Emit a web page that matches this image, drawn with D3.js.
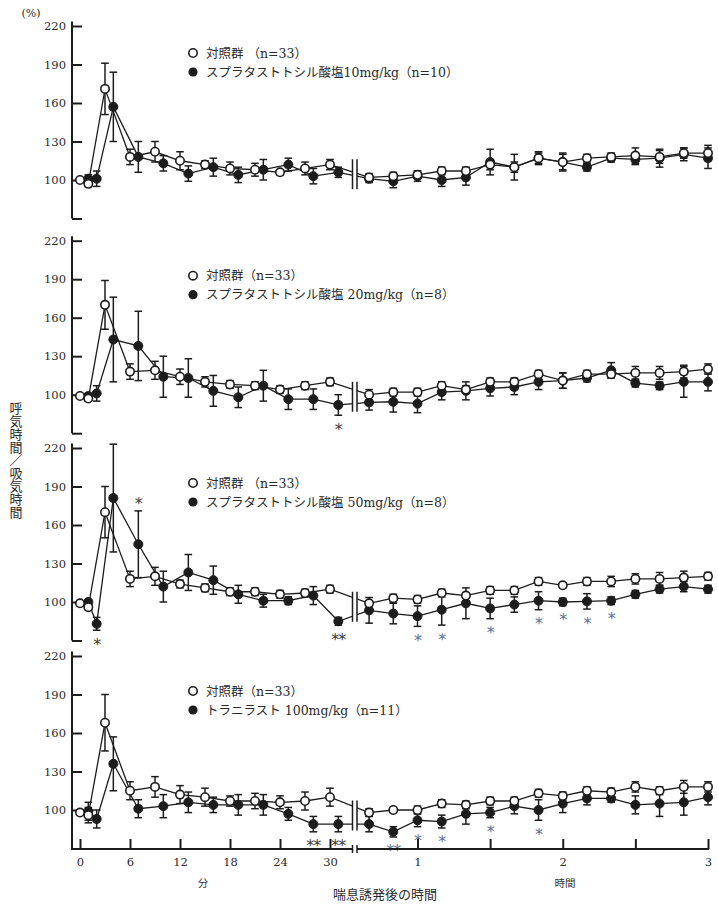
<!DOCTYPE html>
<html><head><meta charset="utf-8">
<script src="https://cdn.jsdelivr.net/npm/d3@7"></script>
<style>body{margin:0;background:#fff} svg{display:block}</style>
</head><body>
<svg id="chart" width="718" height="904"></svg>
<script>
// ---------- DATA ----------
const minTimesCtrl = [0,1,3,6,9,12,15,18,21,24,27,30];
const minTimesDrug = [1,2,4,7,10,13,16,19,22,25,28,31];
const hourTimes = [40,50,60,70,80,90,100,110,120,130,140,150,160,170,180];
const yTickValues = [70,100,130,160,190,220];
const minTickValues = [0,6,12,18,24,30];
const hourTickValues = [1,1.5,2,2.5,3];
const hourTickLabels = [1,2,3];

const ctrlLegend = ["対照群 （n=33）","対照群（n=33）","対照群 （n=33）","対照群（n=33）"];
const drugLegend = ["スプラタストトシル酸塩10mg/kg（n=10）","スプラタストトシル酸塩 20mg/kg（n=8）","スプラタストトシル酸塩 50mg/kg（n=8）","トラニラスト 100mg/kg（n=11）"];

// Panel 1
const ctrlMin1 = [100,97,171,118,122,115,112,109,108,106,109,112];
const ctrlMinSE1 = [1,2,20,6,8,7,3,5,5,2,5,4];
const ctrlHr1 = [102,103,104,107,107,112,110,117,114,117,118,119,118,121,121];
const ctrlHrSE1 = [3,3,3,3,3,4,4,4,6,3,3,6,5,4,6];
const drugMin1 = [101,101,157,118,113,105,110,104,108,112,103,106];
const drugMinSE1 = [3,6,27,12,6,6,7,6,8,5,6,4];
const drugHr1 = [101,99,103,100,102,114,110,117,114,110,117,116,117,120,117];
const drugHrSE1 = [3,5,4,5,6,10,10,5,7,3,3,4,7,5,8];

// Panel 2
const ctrlMin2 = [99,97,170,118,119,114,110,108,107,104,107,110];
const ctrlMinSE2 = [1,2,19,6,7,6,4,3,3,3,3,3];
const ctrlHr2 = [100,102,102,107,104,110,110,116,111,116,116,117,117,118,120];
const ctrlHrSE2 = [4,3,3,3,3,3,3,3,6,3,3,5,5,5,4];
const drugMin2 = [99,101,143,138,114,113,103,98,107,96.5,96.5,92];
const drugMinSE2 = [2,6,33,27,16,15,12,8,12,8,8,8];
const drugHr2 = [94,94.5,93,102,103,105,106,110,111,113,119,109,107,110,110];
const drugHrSE2 = [6,8,7,6,7,6,6,6,6,3,6,3,3,12,7];

// Panel 3
const ctrlMin3 = [99,96,170,118,120,114,111,108,108,106,107,110];
const ctrlMinSE3 = [1,2,20,6,7,3,3,3,3,3,3,3];
const ctrlHr3 = [99,103,102,107,105,109,109,116,113,116,116,118,118,119,120];
const ctrlHrSE3 = [2,3,3,3,2,3,3,3,2,3,4,4,5,5,3];
const drugMin3 = [100,83,181,145,112,123,117,106,101,101,105,85];
const drugMinSE3 = [2,5,42,26,12,14,11,7,5,3,7,3];
const drugHr3 = [93.5,91,89,94,99,95,98,101,100,100.5,101,106,110,112,110];
const drugHrSE3 = [10,8,8,12,12,8,6,7,3,6,3,3,3,4,3];

// Panel 4
const ctrlMin4 = [98,96,168,115,118,112,110,107,107,106,107,110];
const ctrlMinSE4 = [2,6,22,7,8,7,7,4,6,5,7,7];
const ctrlHr4 = [98,100,100,105,104,107,107,113,111,115,114,118,115,118,118];
const ctrlHrSE4 = [3,2,3,3,3,3,3,3,3,3,3,4,3,5,4];
const drugMin4 = [99,93,136,101,103,106,104,104,104,97,89,89];
const drugMinSE4 = [7,7,21,7,9,8,6,8,8,5,6,6];
const drugHr4 = [89,83,92,91,97,98,103,100,105,109,109,104,105,106,110];
const drugHrSE4 = [6,4,5,5,8,4,6,8,7,5,3,7,10,10,6];

// significance marks: [point index in drug series, label, side]
const stars1 = [];
const stars2 = [[11,"*","below"]];
const stars3 = [[1,"*","below"],[3,"*","above"],[11,"**","below"],[14,"*","below"],[15,"*","below"],[17,"*","below"],[19,"*","below"],[20,"*","below"],[21,"*","below"],[22,"*","below"]];
const stars4 = [[10,"**","below"],[11,"**","below"],[13,"**","below"],[14,"*","below"],[15,"*","below"],[17,"*","below"],[19,"*","below"]];

// ---------- LAYOUT ----------
const svg = d3.select("#chart");
const axisX = 72;
const breakL = 352.5, breakR = 357;
const xMin = d3.scaleLinear().domain([0,30]).range([80,330]);
const xHr = d3.scaleLinear().domain([1,3]).range([417.5,708]);
const xOf = t => t < 35 ? xMin(t) : xHr(t/60);
const panelTops = [26, 240.7, 448, 656];
const legendOffsets = [27, 35, 35, 35];
const panelH = 192.5;
const ink = "#1c1c1c";
const numFont = "'DejaVu Serif', serif";
const jpFont = "'DejaVu Serif', 'Noto Sans CJK JP', sans-serif";

function series(minT, minV, minSE, hrV, hrSE){
  return minT.map((t,i)=>({t, v:minV[i], se:minSE[i]}))
    .concat(hourTimes.map((t,i)=>({t, v:hrV[i], se:hrSE[i]})));
}

const panels = [
  {ctrl: series(minTimesCtrl, ctrlMin1, ctrlMinSE1, ctrlHr1, ctrlHrSE1), drug: series(minTimesDrug, drugMin1, drugMinSE1, drugHr1, drugHrSE1), stars: stars1},
  {ctrl: series(minTimesCtrl, ctrlMin2, ctrlMinSE2, ctrlHr2, ctrlHrSE2), drug: series(minTimesDrug, drugMin2, drugMinSE2, drugHr2, drugHrSE2), stars: stars2},
  {ctrl: series(minTimesCtrl, ctrlMin3, ctrlMinSE3, ctrlHr3, ctrlHrSE3), drug: series(minTimesDrug, drugMin3, drugMinSE3, drugHr3, drugHrSE3), stars: stars3},
  {ctrl: series(minTimesCtrl, ctrlMin4, ctrlMinSE4, ctrlHr4, ctrlHrSE4), drug: series(minTimesDrug, drugMin4, drugMinSE4, drugHr4, drugHrSE4), stars: stars4},
];

function valueAt(s, x){
  for (let i=0;i<s.length-1;i++){
    const x0 = xOf(s[i].t), x1 = xOf(s[i+1].t);
    if (x>=x0 && x<=x1) return s[i].v + (s[i+1].v - s[i].v)*(x-x0)/(x1-x0);
  }
  return s[s.length-1].v;
}

panels.forEach((p, pi) => {
  const top = panelTops[pi];
  const y = d3.scaleLinear().domain([70,220]).range([top+panelH, top]);
  const g = svg.append("g");

  // y axis
  g.append("line").attr("x1",axisX).attr("x2",axisX)
    .attr("y1", y(223.5)).attr("y2", y(70)+ (pi===3?1:0))
    .attr("stroke",ink).attr("stroke-width",2);
  const ya = d3.axisLeft(y).tickValues(yTickValues).tickSizeInner(-10).tickSizeOuter(0).tickPadding(6)
    .tickFormat(d => d===70 ? "" : d);
  const yg = g.append("g").attr("transform",`translate(${axisX},0)`).call(ya);
  yg.select(".domain").remove();
  yg.selectAll(".tick line").attr("stroke",ink).attr("stroke-width",2);
  yg.selectAll(".tick text").attr("font-family",numFont).attr("font-size",11.5).attr("fill","#2a2a2a");

  const line = d3.line().x(d=>xOf(d.t)).y(d=>y(d.v));
  // lines
  [p.drug, p.ctrl].forEach(s => {
    g.append("path").datum(s).attr("d",line).attr("fill","none")
      .attr("stroke",ink).attr("stroke-width",1.3);
  });

  // axis break marks in the plot
  const midX = (breakL+breakR)/2;
  const cv = (valueAt(p.ctrl, midX) + valueAt(p.drug, midX))/2;
  const cy = y(cv);
  g.append("rect").attr("x",breakL).attr("width",breakR-breakL).attr("y",cy-16).attr("height",32).attr("fill","#fff");
  [breakL, breakR].forEach(bx => g.append("line").attr("x1",bx).attr("x2",bx)
    .attr("y1",cy-15).attr("y2",cy+15).attr("stroke",ink).attr("stroke-width",1.5));

  // error bars
  [p.drug, p.ctrl].forEach(s => {
    const eb = g.append("g").attr("stroke",ink).attr("stroke-width",1.5);
    s.forEach(d => {
      const x = xOf(d.t);
      eb.append("line").attr("x1",x).attr("x2",x).attr("y1",y(d.v-d.se)).attr("y2",y(d.v+d.se));
      [d.v-d.se, d.v+d.se].forEach(vv => eb.append("line")
        .attr("x1",x-3.8).attr("x2",x+3.8).attr("y1",y(vv)).attr("y2",y(vv)));
    });
  });

  // markers
  g.append("g").selectAll("circle").data(p.drug).join("circle")
    .attr("cx",d=>xOf(d.t)).attr("cy",d=>y(d.v)).attr("r",4.5)
    .attr("fill",ink).attr("stroke",ink).attr("stroke-width",1);
  g.append("g").selectAll("circle").data(p.ctrl).join("circle")
    .attr("cx",d=>xOf(d.t)).attr("cy",d=>y(d.v)).attr("r",4.2)
    .attr("fill","#fff").attr("stroke",ink).attr("stroke-width",1.6);

  // significance marks
  p.stars.forEach(([i, lab, side]) => {
    const d = p.drug[i];
    const cyS = side === "below" ? y(d.v - d.se) + 10 : y(d.v + d.se) - 11;
    g.append("text").attr("x", xOf(d.t)).attr("y", cyS + 9.5)
      .attr("text-anchor","middle").attr("font-family","'DejaVu Sans', sans-serif")
      .attr("font-size",16).attr("letter-spacing",-1)
      .attr("fill", i >= 12 ? "#5b7096" : "#3a3a3a").text(lab);
  });

  // legend
  const ly = top + legendOffsets[pi];
  g.append("circle").attr("cx",193).attr("cy",ly).attr("r",4.2)
    .attr("fill","#fff").attr("stroke",ink).attr("stroke-width",1.6);
  g.append("circle").attr("cx",193).attr("cy",ly+19).attr("r",4.6).attr("fill",ink);
  g.append("text").attr("x",206).attr("y",ly+4.5).attr("font-family",jpFont)
    .attr("font-size",12.5).attr("fill","#2a2a2a").text(ctrlLegend[pi]);
  g.append("text").attr("x",206).attr("y",ly+19+4.5).attr("font-family",jpFont)
    .attr("font-size",12.5).attr("fill","#2a2a2a").text(drugLegend[pi]);
});

// ---------- X AXIS (bottom panel) ----------
const axisY = panelTops[3] + panelH + 0.5;
const xg = svg.append("g");
xg.append("line").attr("x1",axisX-1).attr("x2",breakL).attr("y1",axisY).attr("y2",axisY)
  .attr("stroke",ink).attr("stroke-width",2);
xg.append("line").attr("x1",breakR).attr("x2",709).attr("y1",axisY).attr("y2",axisY)
  .attr("stroke",ink).attr("stroke-width",2);
[breakL, breakR].forEach(bx => xg.append("line").attr("x1",bx).attr("x2",bx)
  .attr("y1",axisY-4).attr("y2",axisY+4).attr("stroke",ink).attr("stroke-width",1.5));

const xaMin = d3.axisBottom(xMin).tickValues(minTickValues).tickSizeInner(-10).tickSizeOuter(0).tickPadding(9);
const xaHr = d3.axisBottom(xHr).tickValues(hourTickValues).tickSizeInner(-10).tickSizeOuter(0).tickPadding(9)
  .tickFormat(d => hourTickLabels.includes(d) ? d : "");
[xaMin, xaHr].forEach(ax => {
  const a = xg.append("g").attr("transform",`translate(0,${axisY})`).call(ax);
  a.select(".domain").remove();
  a.selectAll(".tick line").attr("stroke",ink).attr("stroke-width",2);
  a.selectAll(".tick text").attr("font-family",numFont).attr("font-size",11.5).attr("fill","#2a2a2a");
});

// unit labels
svg.append("text").attr("x",203).attr("y",887).attr("text-anchor","middle")
  .attr("font-family","'Noto Sans CJK JP', sans-serif").attr("font-size",10.5).attr("fill","#333").text("分");
svg.append("text").attr("x",565).attr("y",887).attr("text-anchor","middle")
  .attr("font-family","'Noto Sans CJK JP', sans-serif").attr("font-size",10.5).attr("fill","#333").text("時間");
svg.append("text").attr("x",385).attr("y",899).attr("text-anchor","middle")
  .attr("font-family","'Noto Sans CJK JP', sans-serif").attr("font-size",13).attr("fill","#2a2a2a").text("喘息誘発後の時間");

// y title and unit
svg.append("text").attr("x",31).attr("y",17).attr("text-anchor","middle")
  .attr("font-family",numFont).attr("font-size",11).attr("fill","#2a2a2a").text("(%)");
svg.append("text").attr("x",16).attr("y",460.5).attr("text-anchor","middle")
  .style("writing-mode","vertical-rl").style("text-orientation","upright")
  .attr("font-family","'Noto Sans CJK JP', sans-serif").attr("font-size",13).attr("fill","#2a2a2a")
  .text("呼気時間／吸気時間");
</script>
</body></html>
